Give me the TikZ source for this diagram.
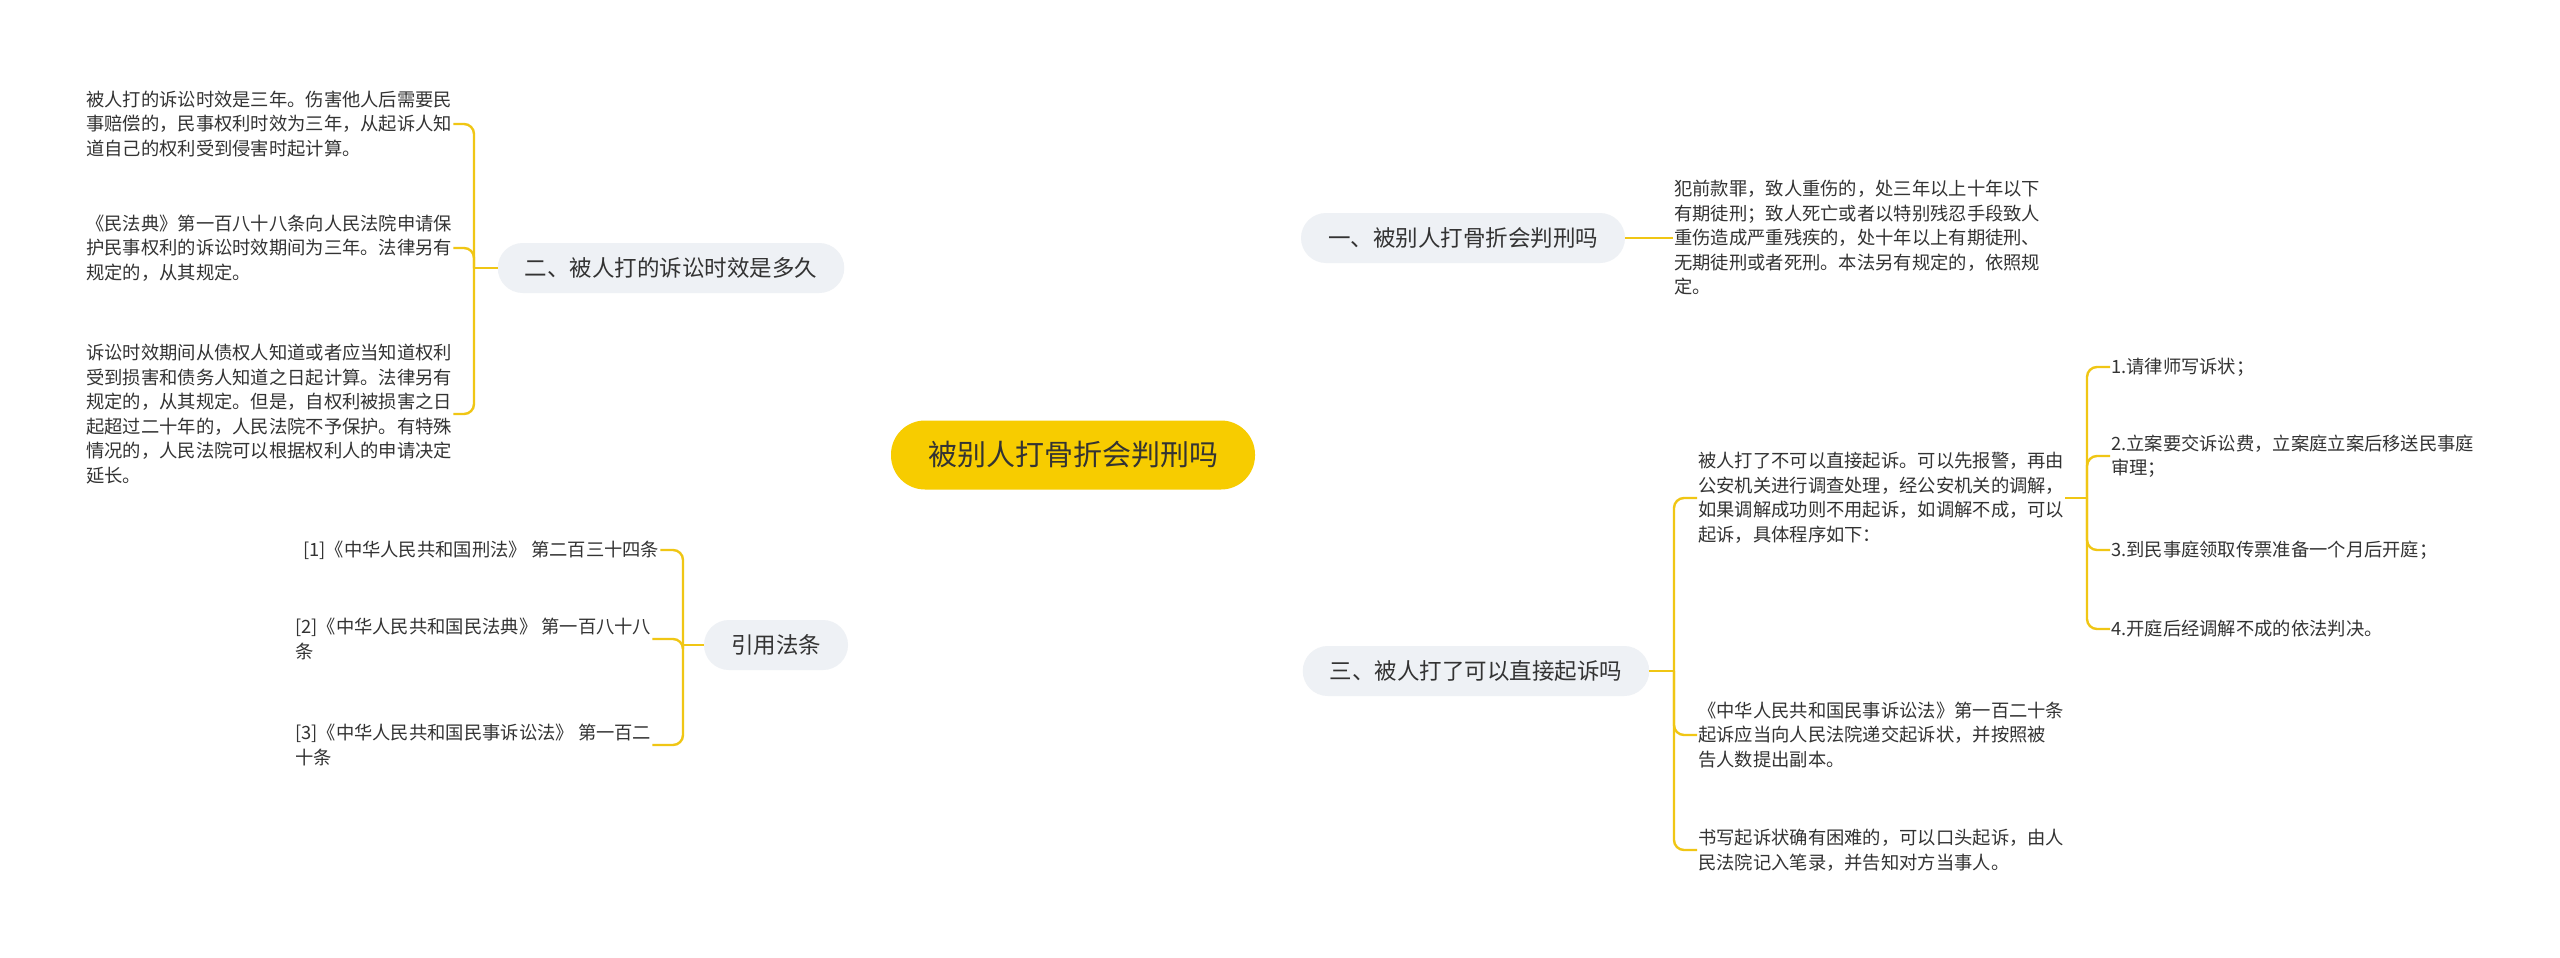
\documentclass[tikz,border=0pt]{standalone}
\usepackage{fontspec}
\setmainfont{Noto Sans CJK SC}
\usetikzlibrary{backgrounds}
\definecolor{lineY}{RGB}{240,198,20}
\definecolor{centerY}{RGB}{247,204,0}
\definecolor{branchG}{RGB}{238,241,245}
\definecolor{txt}{RGB}{51,51,51}
\tikzset{
  conn/.style={draw=lineY,line width=2.4pt},
  rc/.style={conn,rounded corners=10pt},
  center/.style={fill=centerY,rounded corners=34pt,minimum height=69pt,inner xsep=37pt,text=txt,font=\fontsize{29}{34}\selectfont},
  branch/.style={fill=branchG,rounded corners=25pt,minimum height=50pt,inner xsep=27pt,text=txt,font=\fontsize{22.5}{27}\selectfont},
  leaf/.style={align=left,inner sep=1pt,text=txt,font=\fontsize{18.3}{24.5}\selectfont},
}
\begin{document}
\begin{tikzpicture}[x=1pt,y=-1pt]
\useasboundingbox[fill=white] (0,0) rectangle (2560,958);
\node[center] (C) at (1073,455) {被别人打骨折会判刑吗};
\node[branch] (B1) at (1463,238) {一、被别人打骨折会判刑吗};
\node[branch] (B2) at (671,268) {二、被人打的诉讼时效是多久};
\node[branch] (B4) at (776,645) {引用法条};
\node[branch] (B3) at (1476,671) {三、被人打了可以直接起诉吗};

\node[leaf,anchor=west] (L1) at (85,124) {被人打的诉讼时效是三年。伤害他人后需要民\\事赔偿的，民事权利时效为三年，从起诉人知\\道自己的权利受到侵害时起计算。};
\node[leaf,anchor=west] (L2) at (85,248) {《民法典》第一百八十八条向人民法院申请保\\护民事权利的诉讼时效期间为三年。法律另有\\规定的，从其规定。};
\node[leaf,anchor=west] (L3) at (85,414) {诉讼时效期间从债权人知道或者应当知道权利\\受到损害和债务人知道之日起计算。法律另有\\规定的，从其规定。但是，自权利被损害之日\\起超过二十年的，人民法院不予保护。有特殊\\情况的，人民法院可以根据权利人的申请决定\\延长。};

\node[leaf,anchor=west] (R1) at (1673,238) {犯前款罪，致人重伤的，处三年以上十年以下\\有期徒刑；致人死亡或者以特别残忍手段致人\\重伤造成严重残疾的，处十年以上有期徒刑、\\无期徒刑或者死刑。本法另有规定的，依照规\\定。};

\node[leaf,anchor=west] (F1) at (302,550) {[1]《中华人民共和国刑法》 第二百三十四条};
\node[leaf,anchor=west] (F2) at (294,639) {[2]《中华人民共和国民法典》 第一百八十八\\条};
\node[leaf,anchor=west] (F3) at (294,745) {[3]《中华人民共和国民事诉讼法》 第一百二\\十条};

\node[leaf,anchor=west] (A) at (1697,498) {被人打了不可以直接起诉。可以先报警，再由\\公安机关进行调查处理，经公安机关的调解，\\如果调解成功则不用起诉，如调解不成，可以\\起诉，具体程序如下：};
\node[leaf,anchor=west] (Bn) at (1697,735) {《中华人民共和国民事诉讼法》第一百二十条\\ 起诉应当向人民法院递交起诉状，并按照被\\告人数提出副本。};
\node[leaf,anchor=west] (Cn) at (1697,850) {书写起诉状确有困难的，可以口头起诉，由人\\民法院记入笔录，并告知对方当事人。};

\node[leaf,anchor=west] (A1) at (2110,367) {1.请律师写诉状；};
\node[leaf,anchor=west] (A2) at (2110,456) {2.立案要交诉讼费，立案庭立案后移送民事庭\\审理；};
\node[leaf,anchor=west] (A3) at (2110,550) {3.到民事庭领取传票准备一个月后开庭；};
\node[leaf,anchor=west] (A4) at (2110,629) {4.开庭后经调解不成的依法判决。};

\coordinate (J2) at (474,268);
\coordinate (J4) at (683,645);
\coordinate (J3) at (1674,671);
\coordinate (JA) at (2087,498);

\begin{scope}[on background layer]
\draw[conn] (C.center) .. controls (1073,290) and (1130,238) .. (B1.west);
\draw[conn] (C.center) .. controls (1073,300) and (1000,268) .. (B2.east);
\draw[conn] (C.center) .. controls (1073,610) and (1000,645) .. (B4.east);
\draw[conn] (C.center) .. controls (1073,620) and (1130,671) .. (B3.west);
\end{scope}

\draw[conn] (B1.east) -- (R1.west);
\draw[conn] (B2.west) -- (J2);
\draw[rc] (J2) |- (L1.east);
\draw[rc] (J2) |- (L2.east);
\draw[rc] (J2) |- (L3.east);
\draw[conn] (B4.west) -- (J4);
\draw[rc] (J4) |- (F1.east);
\draw[rc] (J4) |- (F2.east);
\draw[rc] (J4) |- (F3.east);
\draw[conn] (B3.east) -- (J3);
\draw[rc] (J3) |- (A.west);
\draw[rc] (J3) |- (Bn.west);
\draw[rc] (J3) |- (Cn.west);
\draw[conn] (A.east) -- (JA);
\draw[rc] (JA) |- (A1.west);
\draw[rc] (JA) |- (A2.west);
\draw[rc] (JA) |- (A3.west);
\draw[rc] (JA) |- (A4.west);
\end{tikzpicture}
\end{document}
